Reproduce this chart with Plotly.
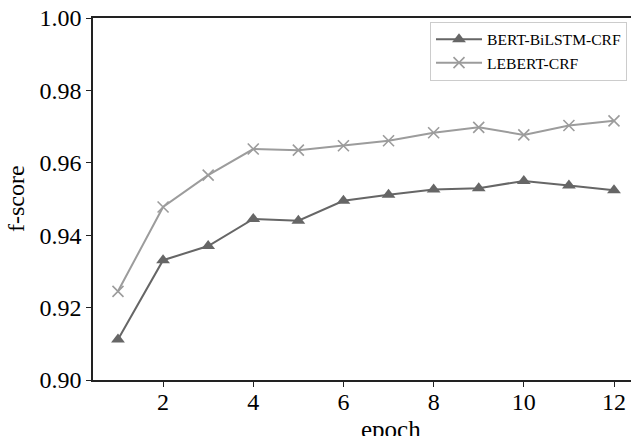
import plotly.graph_objects as go

epochs = [1, 2, 3, 4, 5, 6, 7, 8, 9, 10, 11, 12]
bert_bilstm_crf = [0.9112, 0.9331, 0.9370, 0.9445, 0.9440, 0.9495, 0.9512, 0.9526, 0.9530, 0.9550, 0.9537, 0.9524]
lebert_crf = [0.9245, 0.9478, 0.9566, 0.9638, 0.9635, 0.9647, 0.9661, 0.9683, 0.9698, 0.9677, 0.9703, 0.9716]
x_ticks = [2, 4, 6, 8, 10, 12]
y_ticks = [0.90, 0.92, 0.94, 0.96, 0.98, 1.00]

FONT = "Liberation Serif"
X_RANGE = [0.446, 12.377]

fig = go.Figure()
fig.add_trace(go.Scatter(
    x=epochs, y=bert_bilstm_crf, name="BERT-BiLSTM-CRF", mode="lines+markers",
    line=dict(color="#666666", width=2),
    marker=dict(symbol="triangle-up", size=12, color="#666666"),
))
fig.add_trace(go.Scatter(
    x=epochs, y=lebert_crf, name="LEBERT-CRF", mode="lines+markers",
    line=dict(color="#9c9c9c", width=2),
    marker=dict(symbol="x-thin", size=11, color="#9c9c9c", line=dict(color="#9c9c9c", width=1.6)),
))

fig.update_layout(
    width=631, height=436,
    margin=dict(l=93, r=0, t=18, b=46, autoexpand=False),
    paper_bgcolor="white", plot_bgcolor="white",
    font=dict(family=FONT, color="black"),
    showlegend=True,
    legend=dict(
        x=0.6264, y=0.99, xanchor="left", yanchor="top",
        bordercolor="#cccccc", borderwidth=1, bgcolor="white",
        font=dict(family=FONT, size=15.6, color="black"),
        tracegroupgap=0, itemwidth=46,
    ),
    annotations=[
        dict(text="epoch", xref="paper", yref="paper", x=0.554, y=-0.1075,
             xanchor="center", yanchor="middle", showarrow=False,
             font=dict(family=FONT, size=25, color="black")),
        dict(text="f-score", xref="paper", yref="paper", x=-0.143, y=0.5134,
             xanchor="center", yanchor="middle", showarrow=False, textangle=-90,
             font=dict(family=FONT, size=24, color="black")),
    ],
    xaxis=dict(
        range=X_RANGE, tickmode="array", tickvals=x_ticks,
        showticklabels=False, automargin=False,
        showgrid=False, zeroline=False,
        showline=True, linecolor="#222222", linewidth=1.5, mirror=True,
        ticks="outside", ticklen=5, tickwidth=1.3, tickcolor="#222222",
    ),
    xaxis2=dict(
        range=X_RANGE, matches="x", overlaying="x", anchor="free", position=0.0134,
        tickmode="array", tickvals=x_ticks, ticktext=[str(t) for t in x_ticks],
        automargin=False, showgrid=False, zeroline=False, showline=False, ticks="",
        tickfont=dict(family=FONT, size=24, color="black"),
    ),
    yaxis=dict(
        range=[0.90, 1.00], domain=[10 / 372, 1], tickmode="array", tickvals=y_ticks,
        ticktext=[f"{t:.2f}" for t in y_ticks], automargin=False,
        showgrid=False, zeroline=False,
        showline=True, linecolor="#222222", linewidth=1.5, mirror=False,
        ticks="outside", ticklen=5, tickwidth=1.3, tickcolor="#222222",
        tickfont=dict(family=FONT, size=24, color="black"),
    ),
)
# invisible carrier trace so the label axis is drawn
fig.add_trace(go.Scatter(x=epochs, y=lebert_crf, xaxis="x2", mode="markers",
                         marker=dict(opacity=0), showlegend=False, hoverinfo="skip"))

fig.write_html(
    "out.html",
    config={"displayModeBar": False},
    post_script="document.body.style.margin='0';document.body.style.overflow='hidden';",
)
